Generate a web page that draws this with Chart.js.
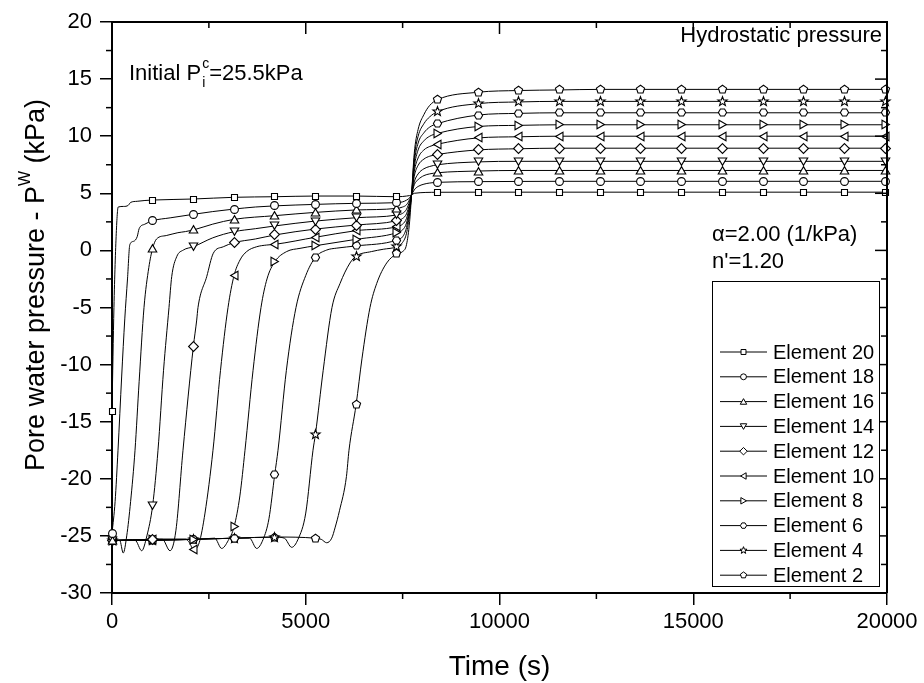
<!DOCTYPE html>
<html><head><meta charset="utf-8">
<script src="https://cdn.jsdelivr.net/npm/chart.js@4.4.1/dist/chart.umd.min.js"></script>
<style>html,body{margin:0;padding:0;background:#fff;}</style>
</head><body>
<canvas id="c" width="924" height="683" style="width:924px;height:683px;display:block"></canvas>
<script>
const FONT = "'Liberation Sans', Arial, sans-serif";

// ---- axes ----
const xTickValues = [0, 5000, 10000, 15000, 20000];
const xTickLabels = ['0', '5000', '10000', '15000', '20000'];
const xMinorTicks = [2500, 7500, 12500, 17500];
const yTickValues = [-30, -25, -20, -15, -10, -5, 0, 5, 10, 15, 20];
const yTickLabels = ['-30', '-25', '-20', '-15', '-10', '-5', '0', '5', '10', '15', '20'];
const yMinorTicks = [-27.5, -22.5, -17.5, -12.5, -7.5, -2.5, 2.5, 7.5, 12.5, 17.5];

// ---- data: marker times (s) ----
const markerTimes = [0, 1050, 2100, 3150, 4200, 5250, 6300, 7350, 8400, 9450, 10500, 11550, 12600, 13650, 14700, 15750, 16800, 17850, 18900, 19950];

const seriesLabels = ['Element 20', 'Element 18', 'Element 16', 'Element 14', 'Element 12', 'Element 10', 'Element 8', 'Element 6', 'Element 4', 'Element 2'];

// values at marker times (kPa)
const e20Marks = [-14.1, 4.41, 4.5, 4.65, 4.7, 4.76, 4.76, 4.7, 5.09, 5.1, 5.1, 5.1, 5.1, 5.1, 5.1, 5.1, 5.1, 5.1, 5.1, 5.1];
const e18Marks = [-24.8, 2.6, 3.16, 3.62, 3.9, 4.03, 4.12, 4.18, 5.96, 6.02, 6.04, 6.05, 6.05, 6.05, 6.05, 6.05, 6.05, 6.05, 6.05, 6.05];
const e16Marks = [-25.4, 0.2, 1.79, 2.72, 3.04, 3.33, 3.54, 3.68, 6.8, 6.95, 7.0, 7.0, 7.0, 7.0, 7.0, 7.0, 7.0, 7.0, 7.0, 7.0];
const e14Marks = [-25.4, -22.3, 0.32, 1.64, 2.14, 2.57, 2.86, 3.1, 7.5, 7.75, 7.8, 7.8, 7.8, 7.8, 7.8, 7.8, 7.8, 7.8, 7.8, 7.8];
const e12Marks = [-25.4, -25.3, -8.4, 0.68, 1.35, 1.87, 2.22, 2.6, 8.4, 8.8, 8.9, 8.95, 8.95, 8.95, 8.95, 8.95, 8.95, 8.95, 8.95, 8.95];
const e10Marks = [-25.4, -25.3, -26.2, -2.2, 0.53, 1.15, 1.73, 2.08, 9.3, 9.85, 9.95, 10.0, 10.0, 10.0, 10.0, 10.0, 10.0, 10.0, 10.0, 10.0];
const e8Marks  = [-25.4, -25.3, -25.3, -24.2, -1.0, 0.41, 0.97, 1.55, 10.25, 10.85, 10.95, 11.0, 11.0, 11.0, 11.0, 11.0, 11.0, 11.0, 11.0, 11.0];
const e6Marks  = [-25.4, -25.3, -25.3, -25.2, -19.6, -0.6, 0.39, 0.91, 11.1, 11.85, 12.0, 12.05, 12.05, 12.05, 12.05, 12.05, 12.05, 12.05, 12.05, 12.05];
const e4Marks  = [-25.4, -25.4, -25.3, -25.2, -25.1, -16.1, -0.5, 0.33, 12.15, 12.85, 13.0, 13.05, 13.05, 13.05, 13.05, 13.05, 13.05, 13.05, 13.05, 13.05];
const e2Marks  = [-25.4, -25.4, -25.3, -25.2, -25.1, -25.2, -13.5, -0.3, 13.2, 13.85, 14.0, 14.05, 14.1, 14.1, 14.1, 14.1, 14.1, 14.1, 14.1, 14.1];

// curve points between markers [time, value]
const e20Path = [[50,-5],[110,1.5],[160,3.8],[300,3.85],[420,3.95],[480,4.2],[650,4.3],[850,4.37],[7500,4.72],[7600,4.76],[7680,4.8],[7730,4.85],[7800,5.0],[20000,5.1]];
const e18Path = [[80,-22],[155,-17.5],[250,-11],[330,-6],[400,-2.5],[460,0.5],[560,0.8],[650,1.2],[700,1.9],[850,2.3],[1500,2.85],[2600,3.4],[3700,3.8],[7500,4.25],[7600,4.4],[7680,4.6],[7730,4.85],[7800,5.3],[7900,5.6],[8050,5.8],[8200,5.9],[20000,6.05]];
const e16Path = [[200,-25.4],[290,-26.5],[380,-25.0],[480,-22],[594,-17.5],[700,-11.5],[826,-5],[950,-1.5],[1150,1.0],[1400,1.3],[1700,1.55],[1900,1.65],[2600,2.3],[7500,3.8],[7600,4.0],[7680,4.45],[7730,4.85],[7800,5.75],[7900,6.2],[8050,6.55],[8200,6.7],[20000,7.0]];
const e14Path = [[600,-25.4],[766,-26.3],[900,-25.0],[1187,-17.5],[1330,-10.5],[1471,-5],[1541,-2.3],[1670,-0.55],[1840,0.03],[2600,1.1],[3700,1.9],[7500,3.25],[7600,3.6],[7680,4.3],[7730,4.85],[7800,6.0],[7900,6.7],[8050,7.15],[8200,7.35],[20000,7.8]];
const e12Path = [[1300,-25.3],[1497,-26.3],[1650,-24.5],[1832,-17.5],[2186,-6.1],[2219,-5],[2444,-2.3],[2614,-0.25],[2872,0.32],[3700,1.0],[7500,2.8],[7600,3.2],[7680,4.1],[7730,4.85],[7800,6.5],[7900,7.45],[8050,8.0],[8200,8.25],[20000,8.95]];
const e10Path = [[1900,-25.3],[2000,-25.6],[2250,-25.6],[2400,-23.0],[2606,-17.5],[2800,-10.5],[2994,-5],[3303,-0.84],[3476,-0.1],[3734,0.32],[3992,0.47],[7500,2.3],[7600,2.8],[7680,3.9],[7730,4.85],[7800,6.9],[7900,8.1],[8050,8.8],[8200,9.1],[20000,10.0]];
const e8Path  = [[2650,-25.2],[2830,-26.1],[3000,-25.4],[3300,-21.5],[3432,-17.5],[3640,-10.5],[3845,-5],[4000,-2.5],[4508,-0.1],[4852,0.18],[7500,1.8],[7600,2.4],[7680,3.7],[7730,4.85],[7800,7.3],[7900,8.8],[8050,9.6],[8200,10.0],[20000,11.0]];
const e6Path  = [[3550,-25.2],[3734,-26.1],[3900,-25.3],[4050,-23.5],[4284,-17.5],[4500,-10.5],[4748,-5],[5000,-2.2],[5540,0.03],[5800,0.2],[7500,1.2],[7600,2.0],[7680,3.5],[7730,4.85],[7800,7.7],[7900,9.4],[8050,10.3],[8200,10.8],[20000,12.05]];
const e4Path  = [[4450,-25.2],[4637,-26.0],[4800,-25.3],[5000,-23.0],[5187,-17.5],[5450,-10.5],[5677,-5],[5884,-2.9],[6142,-1.1],[6700,-0.1],[7000,0.1],[7500,0.7],[7600,1.5],[7680,3.2],[7730,4.85],[7800,8.1],[7900,10.0],[8050,11.1],[8200,11.7],[20000,13.05]];
const e2Path  = [[5400,-25.3],[5540,-25.6],[5670,-25.2],[5755,-24.3],[5870,-22.8],[6050,-19.8],[6116,-17.5],[6450,-9.5],[6658,-5],[6831,-2.9],[7089,-1.1],[7500,-0.1],[7600,0.5],[7680,2.5],[7730,4.85],[7800,8.5],[7900,10.6],[8050,11.9],[8200,12.7],[20000,14.1]];

const seriesSymbols = ['square','circle','triUp','triDown','diamond','triLeft','triRight','hexagon','star','pentagon'];
const seriesMarks = [e20Marks, e18Marks, e16Marks, e14Marks, e12Marks, e10Marks, e8Marks, e6Marks, e4Marks, e2Marks];
const seriesPaths = [e20Path, e18Path, e16Path, e14Path, e12Path, e10Path, e8Path, e6Path, e4Path, e2Path];

// ---- symbols ----
function poly(ctx, cx, cy, r, n, startDeg) {
  for (let i = 0; i < n; i++) {
    const a = (startDeg + i * 360 / n) * Math.PI / 180;
    const px = cx + r * Math.cos(a), py = cy + r * Math.sin(a);
    if (i === 0) ctx.moveTo(px, py); else ctx.lineTo(px, py);
  }
}
function starPath(ctx, cx, cy, ro, ri) {
  for (let i = 0; i < 10; i++) {
    const a = (-90 + i * 36) * Math.PI / 180;
    const r = i % 2 === 0 ? ro : ri;
    const px = cx + r * Math.cos(a), py = cy + r * Math.sin(a);
    if (i === 0) ctx.moveTo(px, py); else ctx.lineTo(px, py);
  }
}
function drawSym(ctx, type, x, y, s, lw) {
  ctx.beginPath();
  switch (type) {
    case 'square': ctx.rect(x - s * 0.8, y - s * 0.8, s * 1.6, s * 1.6); break;
    case 'circle': ctx.arc(x, y, s * 0.95, 0, Math.PI * 2); break;
    case 'triUp': poly(ctx, x, y + s * 0.25, s * 1.2, 3, -90); break;
    case 'triDown': poly(ctx, x, y - s * 0.25, s * 1.2, 3, 90); break;
    case 'triLeft': poly(ctx, x + s * 0.25, y, s * 1.2, 3, 180); break;
    case 'triRight': poly(ctx, x - s * 0.25, y, s * 1.2, 3, 0); break;
    case 'diamond': poly(ctx, x, y, s * 1.2, 4, -90); break;
    case 'hexagon': poly(ctx, x, y, s * 1.0, 6, 0); break;
    case 'pentagon': poly(ctx, x, y, s * 1.05, 5, -90); break;
    case 'star': starPath(ctx, x, y, s * 1.2, s * 0.5); break;
  }
  ctx.closePath();
  ctx.fillStyle = '#fff'; ctx.fill();
  ctx.strokeStyle = '#000'; ctx.lineWidth = lw || 1; ctx.stroke();
}
function symCanvas(type, s) {
  const c = document.createElement('canvas');
  c.width = 15; c.height = 15;
  drawSym(c.getContext('2d'), type, 7.5, 7.5, s, 1.1);
  return c;
}

function buildData(marks, path) {
  const pts = markerTimes.map((t, i) => ({x: t, y: marks[i], m: 1}))
    .concat(path.map(p => ({x: p[0], y: p[1], m: 0})));
  pts.sort((a, b) => a.x - b.x);
  return pts;
}

const datasets = seriesLabels.map((lab, i) => ({
  label: lab,
  sym: seriesSymbols[i],
  data: buildData(seriesMarks[i], seriesPaths[i]),
  borderColor: '#000',
  borderWidth: 1,
  pointStyle: symCanvas(seriesSymbols[i], seriesSymbols[i] === 'square' ? 3.75 : 4.1),
  pointRadius: ctx => (ctx.raw && ctx.raw.m) ? 4 : 0,
  pointHoverRadius: 0,
  cubicInterpolationMode: 'monotone',
  clip: 10,
  fill: false
}));

function line(ctx, x1, y1, x2, y2) { ctx.beginPath(); ctx.moveTo(x1, y1); ctx.lineTo(x2, y2); ctx.stroke(); }

const decor = {
  id: 'decor',
  beforeDatasetsDraw(chart) { chart.ctx.imageSmoothingEnabled = false; },
  afterDatasetsDraw(chart) { chart.ctx.imageSmoothingEnabled = true; },
  afterDraw(chart) {
    const {ctx, chartArea: a, scales: {x, y}} = chart;
    ctx.save();
    ctx.strokeStyle = '#000';
    ctx.lineWidth = 2;
    ctx.beginPath(); ctx.moveTo(a.left, a.top); ctx.lineTo(a.right, a.top); ctx.lineTo(a.right, a.bottom); ctx.stroke();
    ctx.lineWidth = 1.5;
    xMinorTicks.forEach(v => { const p = x.getPixelForValue(v); line(ctx, p, a.bottom, p, a.bottom + 6); line(ctx, p, a.top, p, a.top + 6); });
    xTickValues.forEach(v => { const p = x.getPixelForValue(v); line(ctx, p, a.top, p, a.top + 12); });
    yMinorTicks.forEach(v => { const p = y.getPixelForValue(v); line(ctx, a.left - 6, p, a.left, p); line(ctx, a.right - 6, p, a.right, p); });
    yTickValues.forEach(v => { const p = y.getPixelForValue(v); line(ctx, a.right - 12, p, a.right, p); });

    ctx.fillStyle = '#000';
    ctx.textBaseline = 'alphabetic';
    ctx.textAlign = 'left';
    // Initial P^c_i = 25.5kPa
    let tx = 129;
    ctx.font = '22px ' + FONT;
    ctx.fillText('Initial P', tx, 80); tx += ctx.measureText('Initial P').width + 1;
    ctx.font = '14px ' + FONT;
    ctx.fillText('c', tx, 68);
    ctx.fillText('i', tx, 87); tx += ctx.measureText('c').width;
    ctx.font = '22px ' + FONT;
    ctx.fillText('=25.5kPa', tx, 80);
    // Hydrostatic pressure
    ctx.textAlign = 'right';
    ctx.font = '22px ' + FONT;
    ctx.fillText('Hydrostatic pressure', 882, 42);
    ctx.textAlign = 'left';
    ctx.font = '22px ' + FONT;
    ctx.fillText('\u03b1=2.00 (1/kPa)', 712, 241);
    ctx.fillText("n'=1.20", 712, 268);

    // x title
    ctx.font = '28px ' + FONT;
    ctx.textAlign = 'center';
    ctx.textBaseline = 'middle';
    ctx.fillText('Time (s)', (a.left + a.right) / 2, 667);

    // y title
    ctx.save();
    ctx.translate(37, 285);
    ctx.rotate(-Math.PI / 2);
    ctx.textAlign = 'left';
    const p1 = 'Pore water pressure - P', p2 = 'W', p3 = ' (kPa)';
    ctx.font = '27px ' + FONT; const w1 = ctx.measureText(p1).width, w3 = ctx.measureText(p3).width;
    ctx.font = '16px ' + FONT; const w2 = ctx.measureText(p2).width;
    let sx = -(w1 + w2 + w3) / 2;
    ctx.font = '27px ' + FONT; ctx.fillText(p1, sx, 0); sx += w1;
    ctx.font = '16px ' + FONT; ctx.fillText(p2, sx, -11); sx += w2;
    ctx.font = '27px ' + FONT; ctx.fillText(p3, sx, 0);
    ctx.restore();

    // legend
    const L = 712, T = 281, R = 879, B = 586;
    ctx.fillStyle = '#fff'; ctx.fillRect(L, T, R - L, B - T);
    ctx.strokeStyle = '#000'; ctx.lineWidth = 1;
    ctx.strokeRect(L + 0.5, T + 0.5, R - L, B - T);
    ctx.font = '20px ' + FONT;
    ctx.textBaseline = 'middle';
    ctx.textAlign = 'left';
    chart.data.datasets.forEach((ds, i) => {
      const yy = 352 + i * 24.8;
      ctx.strokeStyle = '#000'; ctx.lineWidth = 1;
      line(ctx, 720, yy, 767, yy);
      drawSym(ctx, ds.sym, 743.5, yy, 3.1, 1);
      ctx.fillStyle = '#000';
      ctx.fillText(ds.label, 773, yy + 1);
    });
    ctx.restore();
  }
};

new Chart(document.getElementById('c'), {
  type: 'line',
  data: {datasets},
  options: {
    responsive: false,
    animation: false,
    events: [],
    devicePixelRatio: 1,
    layout: {padding: {left: 0, right: 37, top: 22, bottom: 0}},
    plugins: {legend: {display: false}, tooltip: {enabled: false}},
    scales: {
      x: {
        type: 'linear', min: 0, max: 20000,
        afterFit: s => { s.height = 90; },
        afterBuildTicks: s => { s.ticks = xTickValues.map(v => ({value: v})); },
        ticks: {callback: v => xTickLabels[xTickValues.indexOf(v)], color: '#000', font: {size: 22, family: FONT}, padding: 4, maxRotation: 0, autoSkip: false},
        grid: {display: true, drawOnChartArea: false, drawTicks: true, tickLength: 12, color: '#000', lineWidth: 1.5},
        border: {display: true, color: '#000', width: 2}
      },
      y: {
        type: 'linear', min: -30, max: 20,
        afterFit: s => { s.width = 112; },
        afterBuildTicks: s => { s.ticks = yTickValues.map(v => ({value: v})); },
        ticks: {callback: v => yTickLabels[yTickValues.indexOf(v)], color: '#000', font: {size: 22, family: FONT}, padding: 8, autoSkip: false},
        grid: {display: true, drawOnChartArea: false, drawTicks: true, tickLength: 12, color: '#000', lineWidth: 1.5},
        border: {display: true, color: '#000', width: 2}
      }
    }
  },
  plugins: [decor]
});
</script>
</body></html>
